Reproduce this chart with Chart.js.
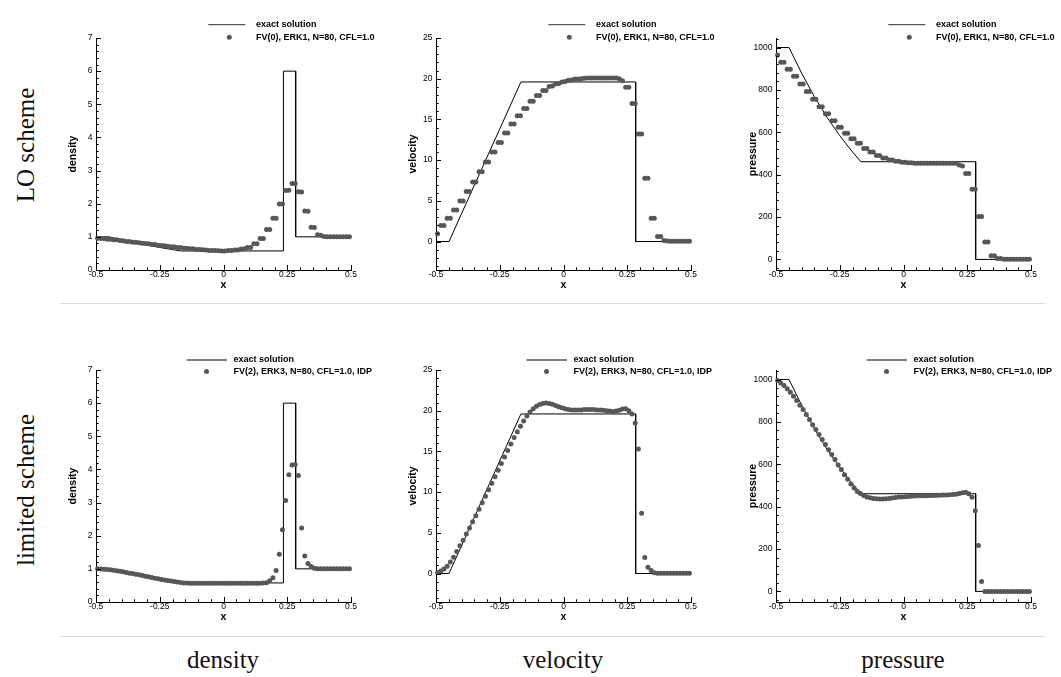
<!DOCTYPE html>
<html><head><meta charset="utf-8">
<script src="https://cdn.jsdelivr.net/npm/chart.js@4.4.1/dist/chart.umd.min.js"></script>
<style>
html,body{margin:0;padding:0;background:#fff;width:1061px;height:677px;overflow:hidden;position:relative}
canvas{position:absolute}
.sep{position:absolute;height:1px;background:#dcdcdc}
.rowlab,.collab{position:absolute;font-family:'Liberation Serif','Times New Roman',serif;font-size:25px;color:#111;white-space:nowrap}
.rowlab{transform:translate(-50%,-50%) rotate(-90deg)}
.collab{transform:translate(-50%,-50%)}
</style></head><body>
<div class="sep" style="left:60px;width:985px;top:303px"></div>
<div class="sep" style="left:60px;width:985px;top:636px"></div>
<div class="rowlab" style="left:26px;top:145px">LO scheme</div>
<div class="rowlab" style="left:26px;top:490px">limited scheme</div>
<div class="collab" style="left:223px;top:660px">density</div>
<div class="collab" style="left:563px;top:660px">velocity</div>
<div class="collab" style="left:903px;top:660px">pressure</div>
<script>
// ---- data ----
const xCells = [-0.49375,-0.48125,-0.46875,-0.45625,-0.44375,-0.43125,-0.41875,-0.40625,-0.39375,-0.38125,
 -0.36875,-0.35625,-0.34375,-0.33125,-0.31875,-0.30625,-0.29375,-0.28125,-0.26875,-0.25625,
 -0.24375,-0.23125,-0.21875,-0.20625,-0.19375,-0.18125,-0.16875,-0.15625,-0.14375,-0.13125,
 -0.11875,-0.10625,-0.09375,-0.08125,-0.06875,-0.05625,-0.04375,-0.03125,-0.01875,-0.00625,
 0.00625,0.01875,0.03125,0.04375,0.05625,0.06875,0.08125,0.09375,0.10625,0.11875,
 0.13125,0.14375,0.15625,0.16875,0.18125,0.19375,0.20625,0.21875,0.23125,0.24375,
 0.25625,0.26875,0.28125,0.29375,0.30625,0.31875,0.33125,0.34375,0.35625,0.36875,
 0.38125,0.39375,0.40625,0.41875,0.43125,0.44375,0.45625,0.46875,0.48125,0.49375];

const xTickValues = [-0.5,-0.25,0,0.25,0.5];
const xTickLabels = ['-0.5','-0.25','0','0.25','0.5'];
const densityTicks = [0,1,2,3,4,5,6,7];
const velocityTicks = [0,5,10,15,20,25];
const pressureTicks = [0,200,400,600,800,1000];

const exactDensityX = [-0.5,-0.449,-0.4,-0.35,-0.3,-0.25,-0.2,-0.167,0.235,0.235,0.283,0.283,0.5];
const exactDensityY = [1,1,0.912,0.829,0.752,0.681,0.616,0.575,0.575,6.0,6.0,1.0,1.0];
const exactVelocityX = [-0.5,-0.449,-0.167,0.283,0.283,0.5];
const exactVelocityY = [0,0,19.6,19.6,0,0];
const exactPressureX = [-0.5,-0.449,-0.4,-0.35,-0.3,-0.25,-0.2,-0.167,0.283,0.283,0.5];
const exactPressureY = [1000,1000,880,769,671,584,507,461,461,0,0];

const loDensity = [0.96,0.95,0.95,0.93,0.93,0.91,0.91,0.89,0.88,0.86,
 0.86,0.84,0.84,0.82,0.81,0.80,0.79,0.77,0.77,0.75,
 0.74,0.73,0.72,0.70,0.70,0.68,0.68,0.66,0.66,0.64,
 0.64,0.62,0.62,0.61,0.60,0.59,0.59,0.585,0.58,0.575,
 0.575,0.585,0.585,0.60,0.60,0.63,0.64,0.68,0.68,0.79,
 0.79,0.95,0.95,1.22,1.22,1.56,1.56,1.99,1.99,2.40,
 2.41,2.61,2.61,2.36,2.35,1.78,1.77,1.29,1.28,1.06,
 1.05,1.01,1.0,1.0,1.0,1.0,1.0,1.0,1.0,1.0];
const loVelocity = [0.94,1.96,1.96,2.86,2.86,3.88,3.88,4.98,4.98,6.13,
 6.13,7.31,7.31,8.58,8.58,9.76,9.76,10.99,10.99,12.17,
 12.17,13.32,13.32,14.42,14.42,15.44,15.44,16.34,16.34,17.24,
 17.24,17.93,17.93,18.55,18.55,19.05,19.1,19.35,19.4,19.6,
 19.65,19.8,19.85,19.95,19.95,20.0,20.05,20.1,20.1,20.1,
 20.1,20.1,20.1,20.1,20.1,20.1,20.1,20.0,19.75,18.95,
 18.95,16.95,16.95,13.2,13.2,7.76,7.76,2.86,2.86,0.61,
 0.61,0.12,0.06,0.02,0.02,0.02,0.02,0.02,0.02,0.02];
const loPressure = [965,931,931,898,898,865,865,828,828,792,
 792,756,756,720,720,687,687,655,655,624,
 624,595,595,570,570,548,548,524,524,507,
 507,491,491,479,479,469,469,463,463,458,
 458,456,456,454,454,454,454,454,454,454,
 454,454,454,454,454,454,454,445,441,406,
 406,331,331,202,202,82,82,17,17,4,
 4,0.5,0.5,0.5,0.5,0.5,0.5,0.5,0.5,0.5];

const limDensity = [1.0,0.995,0.99,0.98,0.97,0.96,0.94,0.93,0.91,0.89,
 0.87,0.86,0.84,0.82,0.80,0.78,0.76,0.74,0.72,0.70,
 0.68,0.665,0.65,0.63,0.615,0.60,0.585,0.575,0.57,0.565,
 0.565,0.565,0.565,0.565,0.565,0.565,0.565,0.565,0.565,0.565,
 0.565,0.565,0.565,0.565,0.565,0.565,0.565,0.565,0.565,0.565,
 0.565,0.565,0.57,0.58,0.64,0.73,0.95,1.44,2.18,3.06,
 3.84,4.13,4.15,3.82,2.23,1.39,1.16,1.07,1.02,1.0,
 1.0,1.0,1.0,1.0,1.0,1.0,1.0,1.0,1.0,1.0];
const limVelocity = [0.12,0.3,0.55,0.9,1.4,2.0,2.7,3.4,4.1,4.85,
 5.6,6.35,7.1,7.9,8.7,9.5,10.3,11.1,11.9,12.7,
 13.5,14.3,15.1,15.9,16.7,17.4,18.1,18.75,19.35,19.85,
 20.25,20.55,20.75,20.9,20.95,20.9,20.8,20.65,20.5,20.35,
 20.25,20.15,20.1,20.1,20.1,20.1,20.15,20.15,20.15,20.15,
 20.1,20.1,20.05,20.0,19.95,19.9,19.95,20.05,20.2,20.25,
 20.0,19.6,18.5,15.3,7.4,1.96,0.77,0.37,0.1,0.02,
 0.02,0.02,0.02,0.02,0.02,0.02,0.02,0.02,0.02,0.02];
const limPressure = [995,984,972,957,940,921,901,879,858,835,
 811,787,764,740,717,693,669,646,622,597,
 575,551,529,507,488,472,462,453,446,442,
 439,437,436,436,437,439,441,443,445,446,
 447,448,449,450,451,451,452,452,453,453,
 454,454,455,455,456,457,459,462,466,468,
 461,444,381,217,47,0,0,0,0,0,
 0,0,0,0,0,0,0,0,0,0];

const legendExact = 'exact solution';
const legendLO = 'FV(0), ERK1, N=80, CFL=1.0';
const legendLim = 'FV(2), ERK3, N=80, CFL=1.0, IDP';

// ---- drawing ----
const FAM = "'Liberation Sans', Arial, Helvetica, sans-serif";

const tecplot = {
  id: 'tecplot',
  afterDraw(chart, args, o) {
    const ctx = chart.ctx, a = chart.chartArea;
    const xs = chart.scales.x, ys = chart.scales.y;
    ctx.save();
    ctx.strokeStyle = '#000'; ctx.lineWidth = 1;
    ctx.beginPath();
    const xp = v => Math.round(xs.getPixelForValue(v)) + 0.5;
    const yp = v => Math.round(ys.getPixelForValue(v)) + 0.5;
    for (let k = 0; k <= 20; k++) {
      const v = -0.5 + k * 0.05; const len = (k % 5 === 0) ? 5 : 2.7;
      const p = xp(v); ctx.moveTo(p, a.bottom); ctx.lineTo(p, a.bottom - len);
    }
    for (let k = Math.ceil(o.yMin / o.yMinor); k * o.yMinor <= o.yMax + 1e-9; k++) {
      const v = k * o.yMinor;
      const major = Math.abs(v / o.yMajor - Math.round(v / o.yMajor)) < 1e-6;
      const len = major ? 5 : 2.7; const p = yp(v);
      ctx.moveTo(a.left, p); ctx.lineTo(a.left + len, p);
    }
    ctx.stroke();
    // legend
    const L = o.legend;
    ctx.strokeStyle = '#555'; ctx.lineWidth = 1.3;
    ctx.beginPath();
    ctx.moveTo(a.left + L.lineX0, a.top + L.lineY); ctx.lineTo(a.left + L.lineX1, a.top + L.lineY);
    ctx.stroke();
    ctx.fillStyle = '#575757';
    ctx.beginPath(); ctx.arc(a.left + L.dotX, a.top + L.dotY, 2.5, 0, Math.PI * 2); ctx.fill();
    ctx.fillStyle = '#000';
    ctx.font = 'bold 9px ' + FAM; ctx.textBaseline = 'middle'; ctx.textAlign = 'left';
    ctx.fillText(legendExact, a.left + L.textX, a.top + L.lineY);
    ctx.fillText(o.label, a.left + L.textX, a.top + L.dotY);
    ctx.restore();
  }
};

const legTop = {lineY: -13.4, dotY: -0.7, lineX0: 112.3, lineX1: 149.3, dotX: 133.3, textX: 160};
const legBot = {lineY: -10, dotY: 1.4, lineX0: 90.5, lineX1: 131, dotX: 110.5, textX: 137.5};

const PADL = 35, PADT = 35, PADR = 40, PADB = 4, YW = 35, XH = 26;

function panel(L, T, W, H, cfg) {
  const c = document.createElement('canvas');
  const cw = PADL + YW + W + PADR, ch = PADT + H + XH + PADB;
  c.width = cw; c.height = ch;
  c.style.left = (L - PADL - YW) + 'px'; c.style.top = (T - PADT) + 'px';
  c.style.width = cw + 'px'; c.style.height = ch + 'px';
  document.body.appendChild(c);
  new Chart(c, {
    type: 'scatter',
    data: { datasets: [
      { data: xCells.map((x, i) => ({x, y: cfg.vals[i]})), pointRadius: 2.5, pointBackgroundColor: '#575757',
        pointBorderWidth: 0, pointHoverRadius: 2.5, showLine: false, order: 0, clip: 6 },
      { data: cfg.ex.map((x, i) => ({x, y: cfg.ey[i]})), showLine: true, pointRadius: 0, pointHoverRadius: 0,
        borderColor: '#000', borderWidth: 1, tension: 0, order: 1, clip: 2 }
    ]},
    options: {
      responsive: false, animation: false, events: [],
      layout: { padding: {left: PADL, top: PADT, right: PADR, bottom: PADB} },
      plugins: { legend: {display: false}, tooltip: {enabled: false},
        tecplot: { yMin: cfg.min, yMax: cfg.max, yMinor: cfg.minor, yMajor: cfg.major, legend: cfg.leg, label: cfg.label } },
      scales: {
        x: { type: 'linear', min: -0.5, max: 0.5, position: 'bottom',
          afterBuildTicks: s => { s.ticks = xTickValues.map(v => ({value: v})); },
          afterFit: s => { s.height = XH; s.paddingLeft = 0; s.paddingRight = 0; },
          ticks: { callback: (v, i) => xTickLabels[i], padding: 0, autoSkip: false, maxRotation: 0,
            color: '#000', font: {size: 8.5, family: FAM} },
          grid: { display: false, drawTicks: false },
          border: { display: true, color: '#000', width: 1 },
          title: { display: true, text: 'x', color: '#000', padding: {top: 0, bottom: 4.4},
            font: {size: 10.5, weight: 'bold', family: FAM} } },
        y: { type: 'linear', min: cfg.min, max: cfg.max, position: 'left',
          afterBuildTicks: s => { s.ticks = cfg.ticks.map(v => ({value: v})); },
          afterFit: s => { s.width = YW; s.paddingTop = 0; s.paddingBottom = 0; },
          ticks: { callback: (v, i) => String(cfg.ticks[i]), padding: 3.5, autoSkip: false,
            color: '#000', font: {size: 8.5, family: FAM} },
          grid: { display: false, drawTicks: false },
          border: { display: true, color: '#000', width: 1 },
          title: { display: true, text: cfg.title, color: '#000', padding: {top: 6.2, bottom: 0},
            font: {size: 10.5, weight: 'bold', family: FAM} } }
      }
    },
    plugins: [tecplot]
  });
}

const W = 255, H = 232;
const cols = [96, 436, 776];
const rows = [38, 370];
const quant = [
  {title: 'density', ticks: densityTicks, min: 0, max: 7, minor: 0.2, major: 1, ex: exactDensityX, ey: exactDensityY},
  {title: 'velocity', ticks: velocityTicks, min: -3.5, max: 25, minor: 1, major: 5, ex: exactVelocityX, ey: exactVelocityY},
  {title: 'pressure', ticks: pressureTicks, min: -50, max: 1045, minor: 40, major: 200, ex: exactPressureX, ey: exactPressureY}
];
const rowVals = [[loDensity, loVelocity, loPressure], [limDensity, limVelocity, limPressure]];
for (let r = 0; r < 2; r++) {
  for (let q = 0; q < 3; q++) {
    panel(cols[q], rows[r], W, H, Object.assign({}, quant[q], {
      vals: rowVals[r][q], leg: r === 0 ? legTop : legBot, label: r === 0 ? legendLO : legendLim }));
  }
}
</script>
</body></html>
